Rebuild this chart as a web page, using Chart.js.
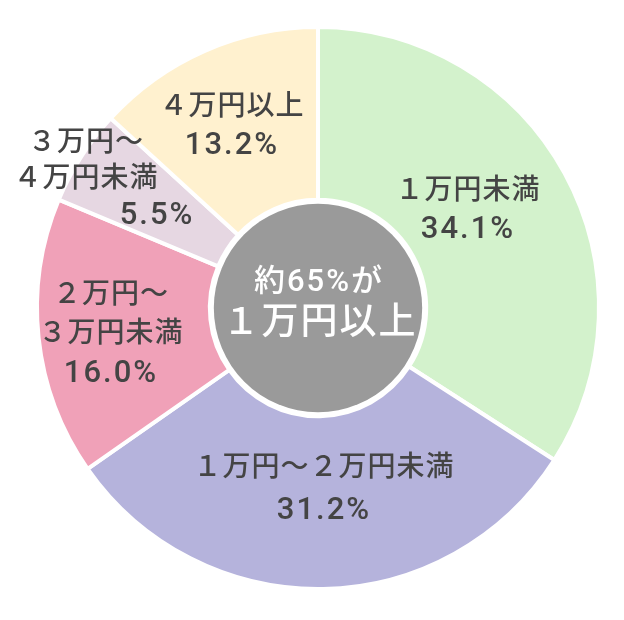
<!DOCTYPE html>
<html lang="ja">
<head>
<meta charset="utf-8">
<script src="https://cdn.jsdelivr.net/npm/chart.js@4/dist/chart.umd.min.js"></script>
<style>
  html, body { margin: 0; padding: 0; background: #fff; }
  #wrap { width: 624px; height: 620px; }
</style>
</head>
<body>
<div id="wrap"><canvas id="PieChart"></canvas></div>
<script>
const categories = ['１万円未満', '１万円〜２万円未満', '２万円〜３万円未満', '３万円〜４万円未満', '４万円以上'];
const shares = [34.1, 31.2, 16.0, 5.5, 13.2];
// how each label is broken into lines
const labelLines = [
    ['１万円未満'],
    ['１万円〜２万円未満'],
    ['２万円〜', '３万円未満'],
    ['３万円〜', '４万円未満'],
    ['４万円以上']
];
const centerText = ['約65%が', '１万円以上'];

const sliceColors = ['#d3f2cc', '#b5b3dc', '#f0a1b8', '#e6d7e2', '#fff1cf'];

// label block placement, px from the pie centre
const labelPlace = [
    { dx: 150, dy: -97, gap: 39 },
    { dx: 6, dy: 182, gap: 42 },
    { dx: -207, dy: 27, gap: 39 },
    { dx: -232, dy: -128, gap: 36, lastDx: -161 },
    { dx: -86, dy: -181, gap: 39 }
];

const textFont = 'Roboto, "Noto Sans CJK JP", sans-serif';

const labelPlugin = {
    id: 'sliceLabels',
    afterDatasetsDraw(chart) {
        const ctx = chart.ctx;
        const arcs = chart.getDatasetMeta(0).data;
        const cx = arcs[0].x, cy = arcs[0].y;
        const inner = arcs[0].innerRadius;

        ctx.save();
        // grey centre disc
        ctx.beginPath();
        ctx.arc(cx, cy, inner - 4, 0, Math.PI * 2);
        ctx.fillStyle = '#9a9a9a';
        ctx.fill();

        ctx.fillStyle = '#ffffff';
        ctx.textAlign = 'center';
        ctx.textBaseline = 'middle';
        ctx.letterSpacing = '2px';
        ctx.font = '500 31px ' + textFont;
        ctx.fillText(centerText[0], cx + 1, cy - 25);
        ctx.font = '500 37px ' + textFont;
        ctx.fillText(centerText[1], cx + 2, cy + 17);

        ctx.fillStyle = '#444444';
        arcs.forEach((arc, i) => {
            const p = labelPlace[i];
            const lines = labelLines[i].concat([shares[i].toFixed(1) + '%']);
            const top = cy + p.dy - (lines.length - 1) * p.gap / 2;
            lines.forEach((line, k) => {
                const last = k === lines.length - 1;
                let x = cx + p.dx;
                if (last && p.lastDx !== undefined) x = cx + p.lastDx;
                ctx.font = last ? '500 31px ' + textFont : '500 28px ' + textFont;
                ctx.letterSpacing = last ? '2px' : '1px';
                ctx.fillText(line, x, top + k * p.gap);
            });
        });
        ctx.restore();
    }
};

const data = {
    labels: categories,
    datasets: [
        {
            label: '割合',
            data: shares,
            backgroundColor: sliceColors,
            borderColor: '#ffffff',
            borderWidth: 4,
            hoverOffset: 0
        }
    ]
};

const config = {
    type: 'doughnut',
    data: data,
    options: {
        responsive: true,
        maintainAspectRatio: false,
        animation: false,
        cutout: '38.5%',
        layout: {
            padding: { top: 25, bottom: 29, left: 35, right: 23 }
        },
        plugins: {
            legend: { display: false },
            tooltip: { enabled: false }
        }
    },
    plugins: [labelPlugin]
};

const ctx = document.getElementById('PieChart');
new Chart(ctx, config);
</script>
</body>
</html>
